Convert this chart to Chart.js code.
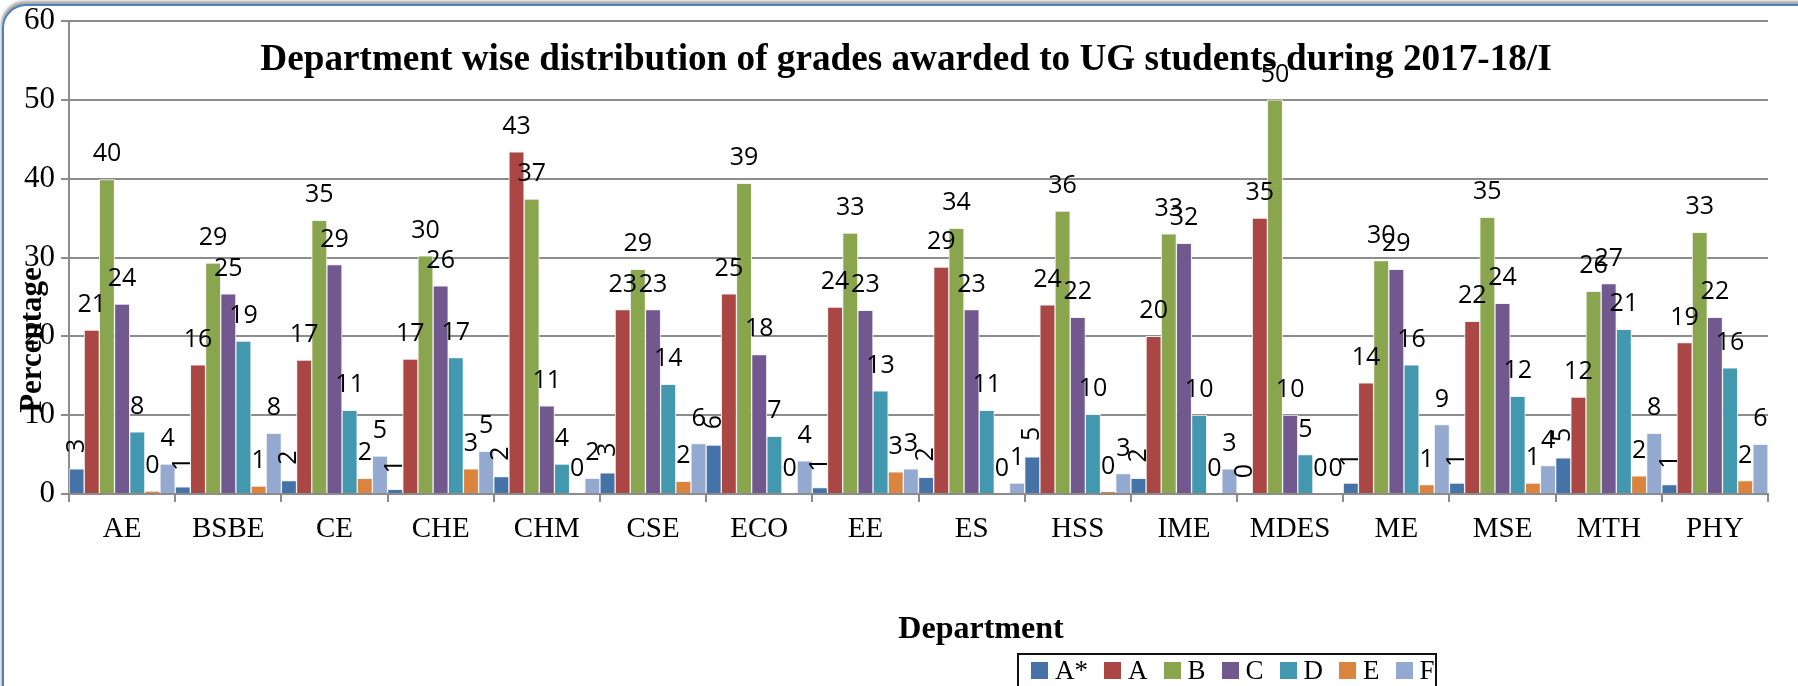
<!DOCTYPE html>
<html>
<head>
<meta charset="utf-8">
<script src="https://cdn.jsdelivr.net/npm/chart.js@4.4.0/dist/chart.umd.min.js"></script>
<style>
  html, body { margin: 0; padding: 0; background: #fff; overflow: hidden; }
  #wrap { position: relative; width: 1798px; height: 686px; overflow: hidden; background: #fff; }
  #frame {
    position: absolute; left: 2px; top: 4px; width: 1900px; height: 900px;
    border-left: 2px solid #4f81bd; border-top: 2px solid #4f81bd;
    border-top-left-radius: 24px;
    box-shadow: -1px -3px 3px rgba(0, 0, 0, 0.35);
    background: #fff;
  }
  #chart { position: absolute; left: 0; top: 0; }
  #legend {
    position: absolute; left: 1017px; top: 653px; width: 420px; height: 60px;
    box-sizing: border-box; border: 2px solid #111; background: #fff;
    font-family: "Liberation Serif", serif; font-size: 27px; color: #000;
  }
  #legend .row { display: flex; align-items: center; height: 31px; position: absolute; top: 0; left: 12px; }
  #legend .item { display: flex; align-items: center; margin-right: 16px; line-height: 31px; }
  #legend .sw { width: 17px; height: 17px; margin-right: 7px; }
</style>
</head>
<body>
<div id="wrap">
  <div id="frame"></div>
  <canvas id="chart" width="1798" height="686"></canvas>
  <div id="legend"><div class="row"></div></div>
</div>
<script>
// =======================
// 1. Dados
// =======================
const chartTitle = "Department wise distribution of grades awarded to UG students during 2017-18/I";
const xTitle = "Department";
const yTitle = "Percentage";

const departments = ["AE", "BSBE", "CE", "CHE", "CHM", "CSE", "ECO", "EE", "ES", "HSS", "IME", "MDES", "ME", "MSE", "MTH", "PHY"];
const grades = ["A*", "A", "B", "C", "D", "E", "F"];
const gradeColors = ["#4572a7", "#aa4643", "#89a54e", "#71588f", "#4198af", "#db843d", "#93a9cf"];

const gradeAStar = [3.2, 0.9, 1.7, 0.6, 2.2, 2.7, 6.2, 0.8, 2.1, 4.7, 2.0, 0, 1.4, 1.4, 4.6, 1.2];
const gradeA = [20.8, 16.4, 17.0, 17.1, 43.4, 23.4, 25.4, 23.7, 28.8, 24.0, 20.0, 35.0, 14.1, 21.9, 12.3, 19.2];
const gradeB = [39.9, 29.3, 34.7, 30.2, 37.4, 28.5, 39.4, 33.1, 33.7, 35.9, 33.0, 50.0, 29.6, 35.1, 25.7, 33.2];
const gradeC = [24.1, 25.4, 29.1, 26.4, 11.2, 23.4, 17.7, 23.3, 23.4, 22.4, 31.8, 10.0, 28.5, 24.2, 26.7, 22.4];
const gradeD = [7.9, 19.4, 10.6, 17.3, 3.8, 13.9, 7.3, 13.1, 10.6, 10.1, 10.0, 5.0, 16.4, 12.4, 20.9, 16.0];
const gradeE = [0.35, 1.0, 2.0, 3.2, 0, 1.6, 0, 2.8, 0, 0.3, 0, 0, 1.2, 1.4, 2.3, 1.7];
const gradeF = [3.8, 7.7, 4.8, 5.4, 2.0, 6.4, 4.2, 3.2, 1.4, 2.6, 3.2, 0, 8.8, 3.6, 7.7, 6.3];

const yMin = 0;
const yMax = 60;
const yStep = 10;

const seriesData = [gradeAStar, gradeA, gradeB, gradeC, gradeD, gradeE, gradeF];

// =======================
// 2. Plugins: rótulos e títulos
// =======================
const valueLabels = {
  id: "valueLabels",
  afterDatasetsDraw(chart) {
    const ctx = chart.ctx;
    ctx.save();
    ctx.fillStyle = "#000";
    ctx.font = "25px 'Open Sans'";
    ctx.textAlign = "center";
    chart.data.datasets.forEach((ds, i) => {
      const meta = chart.getDatasetMeta(i);
      meta.data.forEach((bar, j) => {
        const txt = String(Math.round(ds.data[j]));
        if (i === 0) {
          // rótulos do A* vêm girados no original
          ctx.save();
          ctx.translate(bar.x, bar.y - 23);
          ctx.rotate(-Math.PI / 2);
          ctx.textBaseline = "middle";
          ctx.fillText(txt, 0, 0);
          ctx.restore();
        } else {
          ctx.textBaseline = "alphabetic";
          ctx.fillText(txt, bar.x, bar.y - 18);
        }
      });
    });
    ctx.restore();
  },
};

const titles = {
  id: "titles",
  afterDraw(chart) {
    const ctx = chart.ctx;
    ctx.save();
    ctx.fillStyle = "#000";
    ctx.textAlign = "center";
    ctx.textBaseline = "alphabetic";

    ctx.font = "bold 37.2px 'Liberation Serif'";
    ctx.fillText(chartTitle, 906, 70);

    ctx.font = "bold 32px 'Liberation Serif'";
    ctx.fillText(xTitle, 981, 638);

    ctx.translate(41, 340);
    ctx.rotate(-Math.PI / 2);
    ctx.font = "bold 31px 'Liberation Serif'";
    ctx.fillText(yTitle, 0, 0);
    ctx.restore();
  },
};

// =======================
// 3. Gráfico
// =======================
const gridGray = "#8c8c8c";

const ctxChart = document.getElementById("chart").getContext("2d");
const gradesChart = new Chart(ctxChart, {
  type: "bar",
  data: {
    labels: departments,
    datasets: grades.map((g, i) => ({
      label: g,
      data: seriesData[i],
      backgroundColor: gradeColors[i],
      borderColor: "#f2f2f2",
      borderWidth: 1,
      barPercentage: 1,
      categoryPercentage: 1,
    })),
  },
  options: {
    responsive: false,
    animation: false,
    devicePixelRatio: 1,
    layout: { padding: { left: 0, right: 30, top: 21, bottom: 0 } },
    plugins: {
      legend: { display: false },
      title: { display: false },
      tooltip: { enabled: false },
    },
    scales: {
      x: {
        afterFit: (s) => {
          s.height = 192;
          s.paddingLeft = 0;
          s.paddingRight = 0;
        },
        grid: {
          offset: true,
          drawOnChartArea: false,
          drawTicks: true,
          tickLength: 8,
          color: gridGray,
          lineWidth: 2,
        },
        border: { color: gridGray, width: 2 },
        ticks: {
          color: "#000",
          padding: 10,
          font: { family: "'Liberation Serif'", size: 29 },
          maxRotation: 0,
          autoSkip: false,
        },
      },
      y: {
        min: yMin,
        max: yMax,
        afterFit: (s) => {
          s.width = 69;
          s.paddingTop = 0;
          s.paddingBottom = 0;
        },
        grid: {
          color: gridGray,
          lineWidth: 2,
          drawTicks: true,
          tickLength: 8,
        },
        border: { color: gridGray, width: 2 },
        ticks: {
          stepSize: yStep,
          color: "#000",
          padding: 6,
          font: { family: "'Liberation Serif'", size: 31 },
        },
      },
    },
  },
  plugins: [valueLabels, titles],
});

// =======================
// 4. Legenda (HTML)
// =======================
const row = document.querySelector("#legend .row");
grades.forEach((g, i) => {
  const item = document.createElement("div");
  item.className = "item";
  const sw = document.createElement("span");
  sw.className = "sw";
  sw.style.background = gradeColors[i];
  const txt = document.createElement("span");
  txt.textContent = g;
  item.appendChild(sw);
  item.appendChild(txt);
  row.appendChild(item);
});
</script>
</body>
</html>
